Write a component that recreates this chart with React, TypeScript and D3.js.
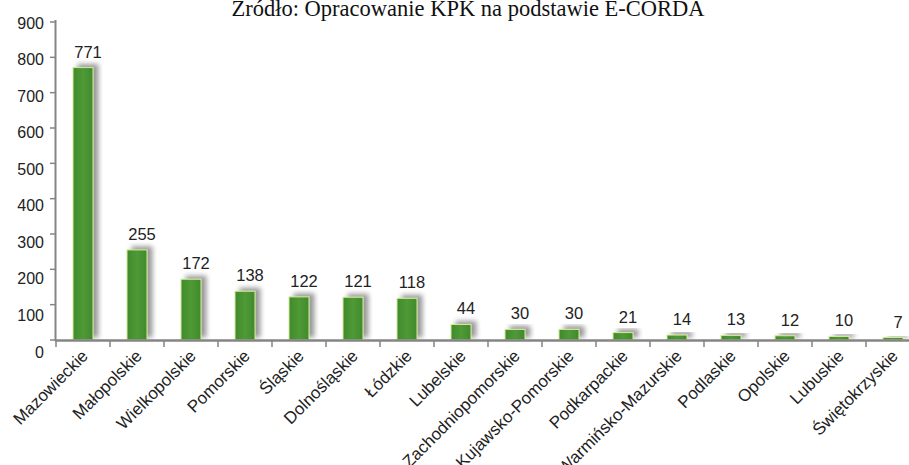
import React, { useEffect, useRef } from 'react';
import * as d3 from 'd3';

const regions = ['Mazowieckie', 'Małopolskie', 'Wielkopolskie', 'Pomorskie', 'Śląskie', 'Dolnośląskie', 'Łódzkie', 'Lubelskie',
  'Zachodniopomorskie', 'Kujawsko-Pomorskie', 'Podkarpackie', 'Warmińsko-Mazurskie', 'Podlaskie', 'Opolskie', 'Lubuskie', 'Świętokrzyskie'];
const counts = [771, 255, 172, 138, 122, 121, 118, 44, 30, 30, 21, 14, 13, 12, 10, 7];
const yTicks = [0, 100, 200, 300, 400, 500, 600, 700, 800, 900];
const title = 'Źródło: Opracowanie KPK na podstawie E-CORDA';

const W = 909;
const H = 465;

export default function App() {
  const ref = useRef<SVGSVGElement>(null);

  useEffect(() => {
    const svg = d3.select(ref.current);
    svg.selectAll('*').remove();

    const x = d3.scaleBand<string>()
      .domain(regions)
      .range([56, 920])
      .paddingInner(0.63)
      .paddingOuter(0.315);
    const y = d3.scaleLinear().domain([0, 900]).range([340, 22]);
    // tick labels in the source sit slightly spread out from their ticks
    const yLab = d3.scaleLinear().domain([0, 900]).range([352, 23]);

    const defs = svg.append('defs');
    const f = defs.append('filter').attr('id', 'shd')
      .attr('x', '-50%').attr('y', '-50%').attr('width', '200%').attr('height', '200%');
    f.append('feDropShadow')
      .attr('dx', 5).attr('dy', -3).attr('stdDeviation', 2.5)
      .attr('flood-color', '#777').attr('flood-opacity', 0.75);
    const g = defs.append('linearGradient').attr('id', 'barg').attr('x1', 0).attr('x2', 1);
    g.append('stop').attr('offset', '0%').attr('stop-color', '#3f8a2c');
    g.append('stop').attr('offset', '50%').attr('stop-color', '#4f9a35');
    g.append('stop').attr('offset', '100%').attr('stop-color', '#3f8a2c');

    svg.append('text')
      .attr('x', 468).attr('y', 16)
      .attr('text-anchor', 'middle')
      .attr('font-family', '"Liberation Serif", "DejaVu Serif", serif')
      .attr('font-size', 22.5)
      .attr('fill', '#111')
      .text(title);

    // bars
    svg.append('g').selectAll('rect')
      .data(counts)
      .join('rect')
      .attr('x', (d, i) => x(regions[i])!)
      .attr('y', d => y(d))
      .attr('width', x.bandwidth())
      .attr('height', d => y(0) - y(d))
      .attr('fill', 'url(#barg)')
      .attr('stroke', '#d6ea9a')
      .attr('stroke-width', 1)
      .attr('filter', 'url(#shd)');

    // value labels
    svg.append('g').selectAll('text')
      .data(counts)
      .join('text')
      .attr('x', (d, i) => x(regions[i])! + x.bandwidth() / 2 + 5)
      .attr('y', d => y(d) - 10)
      .attr('text-anchor', 'middle')
      .attr('font-family', '"Liberation Sans", Arial, sans-serif')
      .attr('font-size', 16.5)
      .attr('fill', '#222')
      .text(d => d);

    const axisColor = '#858585';

    // y axis
    const ya = svg.append('g');
    ya.append('line')
      .attr('x1', 55.5).attr('x2', 55.5)
      .attr('y1', y(900) - 2).attr('y2', y(0) + 1)
      .attr('stroke', axisColor).attr('stroke-width', 2);
    ya.selectAll('line.t')
      .data(yTicks)
      .join('line')
      .attr('class', 't')
      .attr('x1', 50).attr('x2', 55)
      .attr('y1', d => y(d)).attr('y2', d => y(d))
      .attr('stroke', axisColor).attr('stroke-width', 1.5);
    ya.selectAll('text')
      .data(yTicks)
      .join('text')
      .attr('x', 44)
      .attr('y', d => yLab(d))
      .attr('dy', '0.35em')
      .attr('text-anchor', 'end')
      .attr('font-family', '"Liberation Sans", Arial, sans-serif')
      .attr('font-size', 16)
      .attr('fill', '#222')
      .text(d => d);

    // x axis
    const xa = svg.append('g');
    xa.append('line')
      .attr('x1', 55).attr('x2', W)
      .attr('y1', y(0) + 0.5).attr('y2', y(0) + 0.5)
      .attr('stroke', axisColor).attr('stroke-width', 2.5);
    const off = x.step() * x.paddingOuter();
    xa.selectAll('line.t')
      .data(regions)
      .join('line')
      .attr('class', 't')
      .attr('x1', d => x(d)! - off).attr('x2', d => x(d)! - off)
      .attr('y1', y(0)).attr('y2', y(0) + 7)
      .attr('stroke', axisColor).attr('stroke-width', 1.5);
    xa.selectAll('text')
      .data(regions)
      .join('text')
      .attr('transform', d => `translate(${x(d)! + x.bandwidth() / 2 + 6},${y(0) + 17}) rotate(-45)`)
      .attr('text-anchor', 'end')
      .attr('font-family', '"Liberation Sans", Arial, sans-serif')
      .attr('font-size', 17)
      .attr('fill', '#222')
      .text(d => d);
  }, []);

  return (
    <div style={{ position: 'absolute', left: 0, top: 0 }}>
      <svg ref={ref} width={W} height={H} style={{ display: 'block', background: '#fff' }} />
    </div>
  );
}
